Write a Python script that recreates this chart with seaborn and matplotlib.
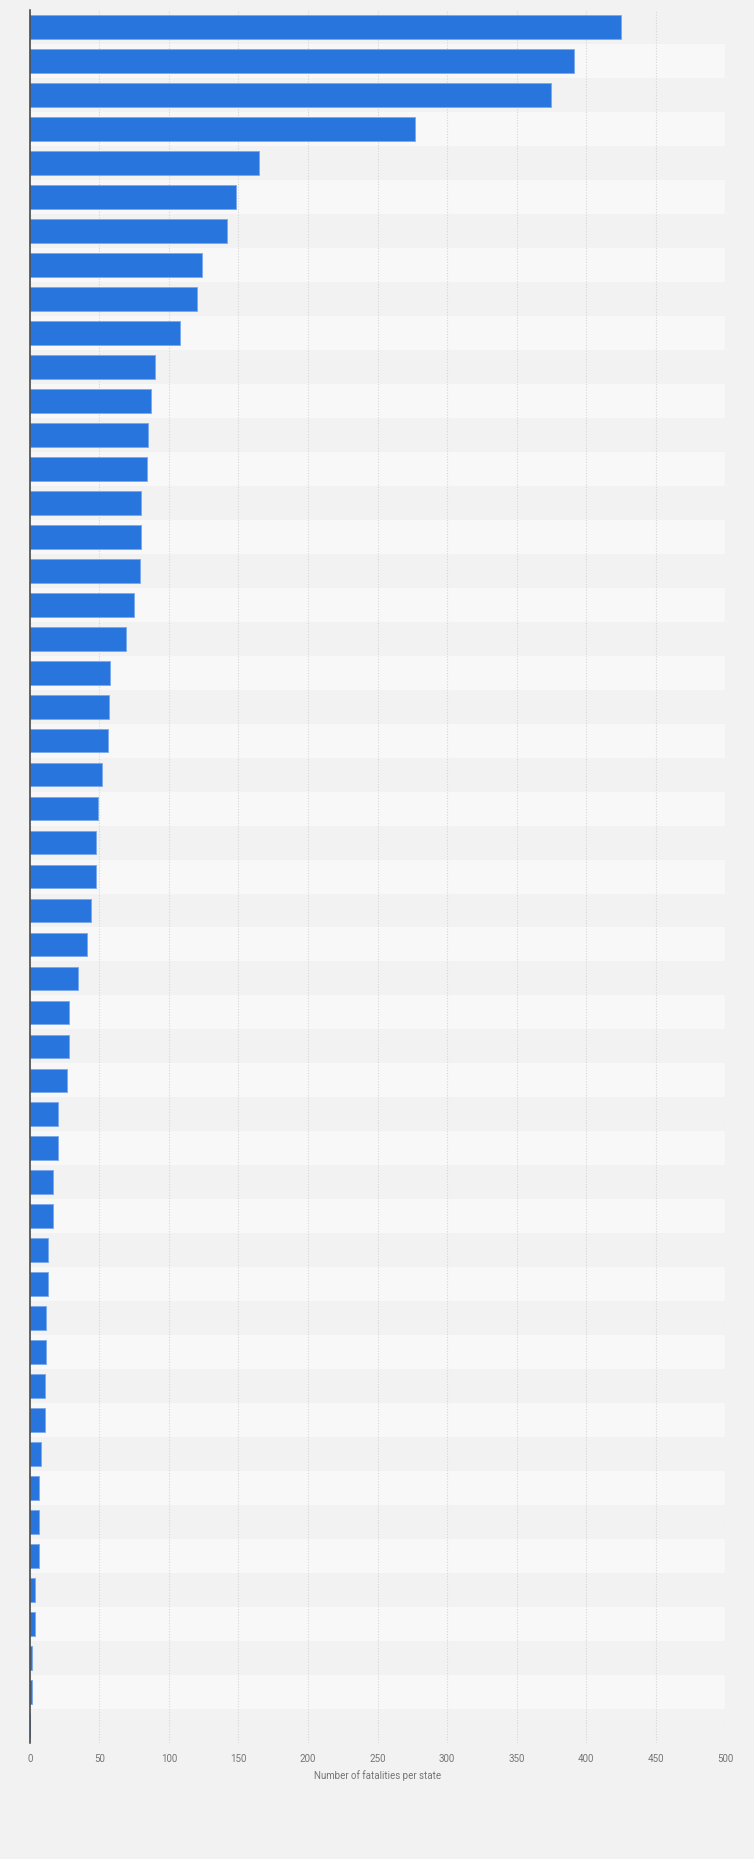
import numpy as np
import pandas as pd
import matplotlib
matplotlib.use("Agg")
import matplotlib.pyplot as plt
import seaborn as sns

# values, sorted descending (last slot is empty)
fatalities = [425, 391, 375, 277, 165, 148, 142, 124, 120, 108,
              90, 87, 85, 84, 80, 80, 79, 75, 69, 58,
              57, 56, 52, 49, 48, 48, 44, 41, 35, 28,
              28, 27, 20, 20, 17, 17, 13, 13, 12, 12,
              11, 11, 8, 7, 7, 7, 4, 4, 2, 2, 0]
states = [f"State {i + 1}" for i in range(len(fatalities))]
x_ticks = [0, 50, 100, 150, 200, 250, 300, 350, 400, 450, 500]
x_label = "Number of fatalities per state"

df = pd.DataFrame({"state": states, "fatalities": fatalities})

sns.set_style("white")
plt.rcParams["font.family"] = ["Roboto", "DejaVu Sans"]

bg_dark = "#f2f2f2"
bg_light = "#f8f8f8"
bar_color = "#2876dd"
text_color = "#757575"

fig = plt.figure(figsize=(7.54, 18.59), dpi=100, facecolor=bg_dark)
ax = fig.add_axes([0.0394, 0.0624, 0.9226, 0.9322])
ax.set_facecolor(bg_dark)

# alternating row bands
for i in range(len(states)):
    ax.axhspan(i - 0.5, i + 0.5, color=bg_dark if i % 2 == 0 else bg_light,
               zorder=0.1, linewidth=0)

sns.barplot(data=df, x="fatalities", y="state", orient="h", color=bar_color,
            saturation=1, width=0.7, edgecolor="#79a8ea", linewidth=0.6,
            ax=ax, zorder=2)

ax.set_xlim(0, 500)
ax.set_ylim(len(states) - 0.5, -0.5)
ax.set_xticks(x_ticks)
ax.set_xticklabels([str(t) for t in x_ticks], fontsize=7, color=text_color)
ax.tick_params(axis="x", length=0, pad=8)
ax.set_yticks([])
ax.set_ylabel("")
ax.set_xlabel(x_label, fontsize=7, color=text_color, labelpad=4.5)

ax.set_axisbelow(True)
ax.grid(axis="x", linestyle=(0, (1, 1.5)), color="#d6d6d6", linewidth=0.8, zorder=0.5)
ax.grid(axis="y", visible=False)

for side in ["top", "right", "bottom"]:
    ax.spines[side].set_visible(False)
ax.spines["left"].set_color("#3c3c3c")
ax.spines["left"].set_linewidth(1.1)
ax.spines["left"].set_zorder(3)

fig.savefig("out.png", dpi=100, facecolor=bg_dark)
